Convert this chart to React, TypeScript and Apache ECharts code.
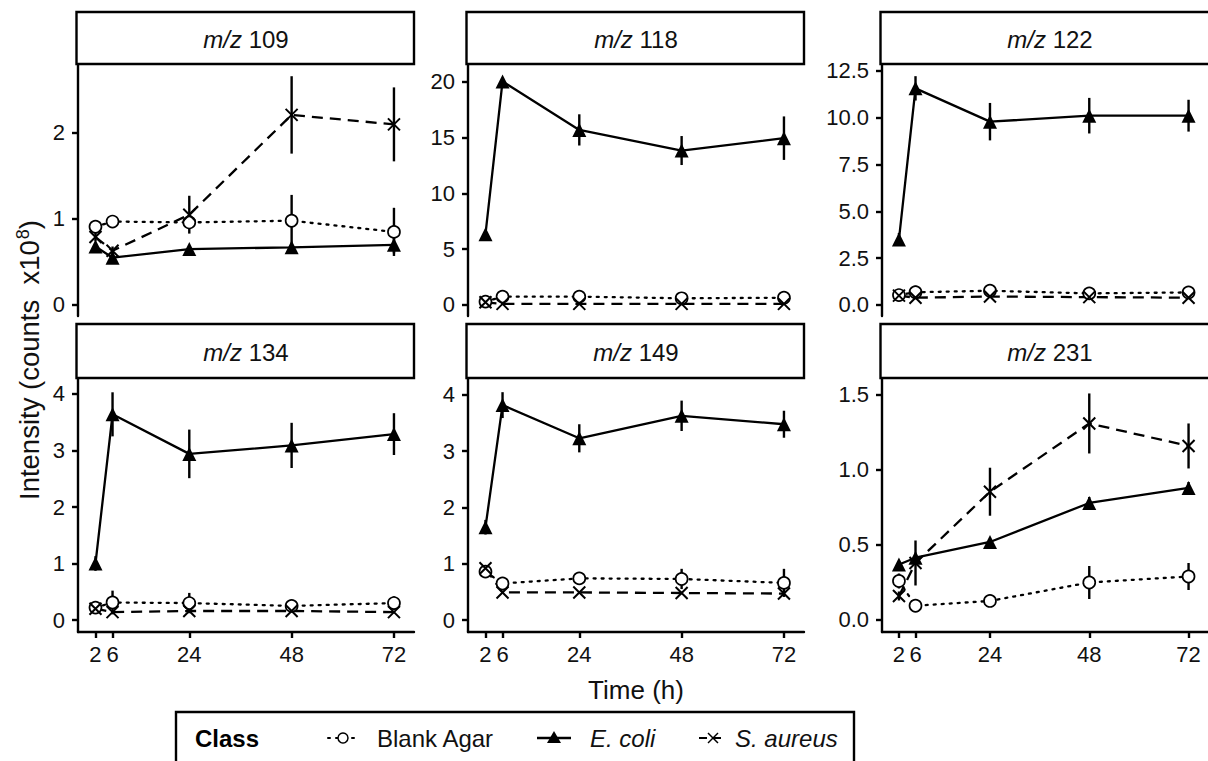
import React, { useEffect, useRef } from "react";
import * as echarts from "echarts";

// ---------- data ----------
const times = [2, 6, 24, 48, 72];
const panelTitles = ["109", "118", "122", "134", "149", "231"];
const classNames = ["Blank Agar", "E. coli", "S. aureus"];

// m/z 109
const blank109 = [0.91, 0.97, 0.96, 0.98, 0.85];
const blank109Err = [0.03, 0.05, 0.06, 0.3, 0.28];
const ecoli109 = [0.68, 0.55, 0.65, 0.67, 0.7];
const ecoli109Err = [0.03, 0.03, 0.03, 0.04, 0.1];
const saureus109 = [0.79, 0.63, 1.05, 2.21, 2.1];
const saureus109Err = [0.05, 0.05, 0.22, 0.45, 0.43];

// m/z 118
const blank118 = [0.3, 0.75, 0.75, 0.6, 0.65];
const blank118Err = [0.1, 0.15, 0.3, 0.2, 0.2];
const ecoli118 = [6.35, 20.05, 15.7, 13.85, 14.96];
const ecoli118Err = [0.3, 0.3, 1.4, 1.3, 1.95];
const saureus118 = [0.24, 0.1, 0.1, 0.1, 0.1];
const saureus118Err = [0.05, 0.05, 0.05, 0.05, 0.05];

// m/z 122
const blank122 = [0.53, 0.68, 0.76, 0.62, 0.67];
const blank122Err = [0.1, 0.35, 0.3, 0.15, 0.2];
const ecoli122 = [3.5, 11.57, 9.79, 10.11, 10.11];
const ecoli122Err = [0.35, 0.65, 1.0, 0.95, 0.85];
const saureus122 = [0.5, 0.39, 0.45, 0.42, 0.39];
const saureus122Err = [0.05, 0.05, 0.05, 0.05, 0.05];

// m/z 134
const blank134 = [0.22, 0.31, 0.3, 0.25, 0.3];
const blank134Err = [0.03, 0.21, 0.18, 0.04, 0.12];
const ecoli134 = [1.0, 3.64, 2.94, 3.09, 3.29];
const ecoli134Err = [0.13, 0.39, 0.43, 0.4, 0.37];
const saureus134 = [0.2, 0.14, 0.16, 0.16, 0.14];
const saureus134Err = [0.02, 0.02, 0.02, 0.02, 0.02];

// m/z 149
const blank149 = [0.86, 0.65, 0.74, 0.73, 0.66];
const blank149Err = [0.03, 0.1, 0.05, 0.18, 0.25];
const ecoli149 = [1.65, 3.82, 3.23, 3.63, 3.48];
const ecoli149Err = [0.13, 0.23, 0.25, 0.27, 0.24];
const saureus149 = [0.92, 0.49, 0.49, 0.48, 0.47];
const saureus149Err = [0.02, 0.02, 0.02, 0.02, 0.02];

// m/z 231
const blank231 = [0.26, 0.095, 0.127, 0.25, 0.29];
const blank231Err = [0.05, 0.01, 0.01, 0.11, 0.09];
const ecoli231 = [0.37, 0.415, 0.52, 0.78, 0.88];
const ecoli231Err = [0.02, 0.02, 0.02, 0.04, 0.04];
const saureus231 = [0.16, 0.38, 0.855, 1.31, 1.16];
const saureus231Err = [0.03, 0.15, 0.16, 0.2, 0.15];

// y tick values per panel
const yTicks109 = [0, 1, 2];
const yTicks118 = [0, 5, 10, 15, 20];
const yTicks122 = [0, 2.5, 5, 7.5, 10, 12.5];
const yTicks134 = [0, 1, 2, 3, 4];
const yTicks149 = [0, 1, 2, 3, 4];
const yTicks231 = [0, 0.5, 1, 1.5];

// ---------- layout ----------
const FONT = "'Liberation Sans', Arial, Helvetica, sans-serif";
const TICK_FS = 22;
const STRIP_FS = 24;
const XTITLE_FS = 26;
const YTITLE_FS = 27.5;
const LEG_FS = 24;
const colLeft = [78, 468, 882];
const colWidth = 336;
const rowTop = [64, 378];
const rowHeight = [252, 254];
const stripTop = [12, 324];

const panels = [
  { title: panelTitles[0], data: [[blank109, blank109Err], [ecoli109, ecoli109Err], [saureus109, saureus109Err]], ticks: yTicks109, dec: 0, min: -0.128, max: 2.802 },
  { title: panelTitles[1], data: [[blank118, blank118Err], [ecoli118, ecoli118Err], [saureus118, saureus118Err]], ticks: yTicks118, dec: 0, min: -0.987, max: 21.61 },
  { title: panelTitles[2], data: [[blank122, blank122Err], [ecoli122, ecoli122Err], [saureus122, saureus122Err]], ticks: yTicks122, dec: 1, min: -0.588, max: 12.87 },
  { title: panelTitles[3], data: [[blank134, blank134Err], [ecoli134, ecoli134Err], [saureus134, saureus134Err]], ticks: yTicks134, dec: 0, min: -0.212, max: 4.283 },
  { title: panelTitles[4], data: [[blank149, blank149Err], [ecoli149, ecoli149Err], [saureus149, saureus149Err]], ticks: yTicks149, dec: 0, min: -0.213, max: 4.302 },
  { title: panelTitles[5], data: [[blank231, blank231Err], [ecoli231, ecoli231Err], [saureus231, saureus231Err]], ticks: yTicks231, dec: 1, min: -0.08, max: 1.613 },
];

const CROSS = "path://M0,0L10,10M0,10L10,0";
const groupStyles = [
  { symbol: "circle", size: 12, item: { color: "#fff", borderColor: "#000", borderWidth: 1.7 }, line: { type: [2, 6] as any, cap: "round" } },
  { symbol: "triangle", size: 14, item: { color: "#000", borderColor: "#000", borderWidth: 0 }, line: { type: "solid" } },
  { symbol: CROSS, size: 12, item: { color: "none", borderColor: "#000", borderWidth: 2 }, line: { type: [11, 7] as any } },
];

function buildOption() {
  const grid: any[] = [];
  const xAxis: any[] = [];
  const yAxis: any[] = [];
  const series: any[] = [];
  const graphic: any[] = [];

  panels.forEach((p, i) => {
    const r = Math.floor(i / 3);
    const c = i % 3;
    const bottomRow = r === 1;
    grid.push({ left: colLeft[c], top: rowTop[r], width: colWidth, height: rowHeight[r], containLabel: false });
    xAxis.push({
      type: "value",
      gridIndex: i,
      min: -2.1,
      max: 76.7,
      axisLine: { show: bottomRow, onZero: false, lineStyle: { color: "#000", width: 2.4 } },
      axisTick: { show: bottomRow, customValues: times, length: 6, lineStyle: { color: "#000", width: 2.4 } },
      axisLabel: { show: bottomRow, customValues: times, color: "#111", fontSize: TICK_FS, fontFamily: FONT, margin: 11 },
      splitLine: { show: false },
    });
    yAxis.push({
      type: "value",
      gridIndex: i,
      min: p.min,
      max: p.max,
      axisLine: { show: true, onZero: false, lineStyle: { color: "#000", width: 2.4 } },
      axisTick: { show: true, customValues: p.ticks, length: 6, lineStyle: { color: "#000", width: 2.4 } },
      axisLabel: {
        customValues: p.ticks,
        color: "#111",
        fontSize: TICK_FS,
        fontFamily: FONT,
        margin: 13,
        formatter: (v: number) => v.toFixed(p.dec),
      },
      splitLine: { show: false },
    });

    p.data.forEach(([vals, errs], g) => {
      const st = groupStyles[g];
      series.push({
        type: "custom",
        name: classNames[g] + " err",
        xAxisIndex: i,
        yAxisIndex: i,
        z: 2,
        encode: { x: 0, y: [1, 2] },
        data: times.map((t, k) => [t, vals[k] - errs[k], vals[k] + errs[k]]),
        renderItem: (params: any, api: any) => {
          const a = api.coord([api.value(0), api.value(1)]);
          const b = api.coord([api.value(0), api.value(2)]);
          return {
            type: "line",
            shape: { x1: a[0], y1: a[1], x2: b[0], y2: b[1] },
            style: { stroke: "#000", lineWidth: 2.4 },
          };
        },
      });
      series.push({
        type: "line",
        name: classNames[g],
        xAxisIndex: i,
        yAxisIndex: i,
        z: 3,
        data: times.map((t, k) => [t, vals[k]]),
        symbol: st.symbol,
        symbolSize: st.size,
        showSymbol: true,
        itemStyle: st.item,
        lineStyle: { color: "#000", width: 2.3, ...st.line },
        emphasis: { disabled: true },
      });
    });

    // strip
    const sh = rowTop[r] - stripTop[r];
    graphic.push({
      type: "rect",
      shape: { x: colLeft[c] - 1.5, y: stripTop[r], width: colWidth + 1.5, height: sh },
      style: { fill: "#fff", stroke: "#000", lineWidth: 2.4 },
      z: 10,
    });
    graphic.push({
      type: "text",
      x: colLeft[c] + colWidth / 2,
      y: stripTop[r] + sh / 2 + 1,
      style: {
        text: "{i|m/z} " + p.title,
        fill: "#111",
        font: `${STRIP_FS}px ${FONT}`,
        align: "center",
        verticalAlign: "middle",
        rich: { i: { fontStyle: "italic", fontSize: STRIP_FS, fontFamily: FONT, fill: "#111" } },
      },
      z: 11,
    });
  });

  // axis titles
  graphic.push({
    type: "text",
    x: 29,
    y: 360,
    rotation: Math.PI / 2,
    style: {
      text: "Intensity (counts  x10{sup|8})",
      fill: "#111",
      font: `${YTITLE_FS}px ${FONT}`,
      align: "center",
      verticalAlign: "middle",
      rich: { sup: { fontSize: 18, fontFamily: FONT, fill: "#111", verticalAlign: "top", padding: [0, 0, 12, 1] } },
    },
    z: 11,
  });
  graphic.push({
    type: "text",
    x: 636,
    y: 690,
    style: { text: "Time (h)", fill: "#111", font: `${XTITLE_FS}px ${FONT}`, align: "center", verticalAlign: "middle" },
    z: 11,
  });

  // legend
  const ly = 738;
  graphic.push({ type: "rect", shape: { x: 176, y: 712, width: 678, height: 70 }, style: { fill: "#fff", stroke: "#000", lineWidth: 2.4 }, z: 10 });
  graphic.push({ type: "text", x: 195, y: ly, style: { text: "Class", fill: "#000", font: `bold ${LEG_FS}px ${FONT}`, verticalAlign: "middle" }, z: 11 });
  // Blank Agar key
  graphic.push({ type: "line", shape: { x1: 328, y1: ly, x2: 358, y2: ly }, style: { stroke: "#000", lineWidth: 2, lineDash: [2, 6], lineCap: "round" }, z: 11 });
  graphic.push({ type: "circle", shape: { cx: 343, cy: ly, r: 5 }, style: { fill: "#fff", stroke: "#000", lineWidth: 1.5 }, z: 12 });
  graphic.push({ type: "text", x: 377, y: ly, style: { text: "Blank Agar", fill: "#111", font: `${LEG_FS}px ${FONT}`, verticalAlign: "middle" }, z: 11 });
  // E. coli key
  graphic.push({ type: "line", shape: { x1: 537, y1: ly, x2: 571, y2: ly }, style: { stroke: "#000", lineWidth: 2.3 }, z: 11 });
  graphic.push({ type: "polygon", shape: { points: [[554, ly - 7], [561, ly + 5], [547, ly + 5]] }, style: { fill: "#000" }, z: 12 });
  graphic.push({ type: "text", x: 590, y: ly, style: { text: "E. coli", fill: "#111", font: `italic ${LEG_FS}px ${FONT}`, verticalAlign: "middle" }, z: 11 });
  // S. aureus key
  graphic.push({ type: "line", shape: { x1: 699, y1: ly, x2: 727, y2: ly }, style: { stroke: "#000", lineWidth: 2, lineDash: [8, 6] }, z: 11 });
  graphic.push({ type: "line", shape: { x1: 708, y1: ly - 5, x2: 718, y2: ly + 5 }, style: { stroke: "#000", lineWidth: 1.5 }, z: 12 });
  graphic.push({ type: "line", shape: { x1: 708, y1: ly + 5, x2: 718, y2: ly - 5 }, style: { stroke: "#000", lineWidth: 1.5 }, z: 12 });
  graphic.push({ type: "text", x: 735, y: ly, style: { text: "S. aureus", fill: "#111", font: `italic ${LEG_FS}px ${FONT}`, verticalAlign: "middle" }, z: 11 });

  return {
    animation: false,
    backgroundColor: "#fff",
    textStyle: { fontFamily: FONT },
    grid,
    xAxis,
    yAxis,
    series,
    graphic,
  };
}

export default function App() {
  const ref = useRef<HTMLDivElement>(null);
  useEffect(() => {
    document.body.style.margin = "0";
    if (!ref.current) return;
    const chart = echarts.init(ref.current, undefined, { renderer: "svg" });
    chart.setOption(buildOption() as any);
    return () => chart.dispose();
  }, []);
  return <div ref={ref} style={{ width: 1208, height: 761 }} />;
}
